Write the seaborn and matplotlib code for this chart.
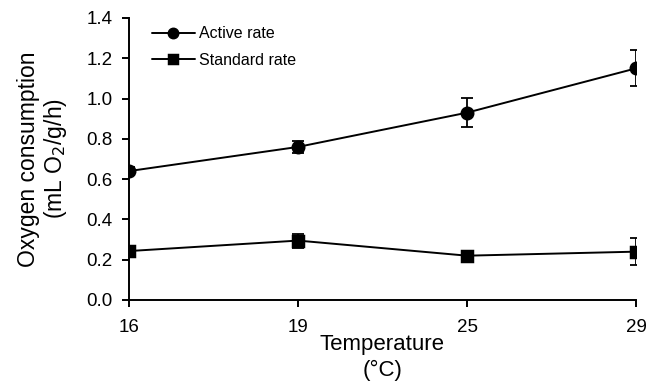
import matplotlib
matplotlib.use("Agg")
import matplotlib.pyplot as plt
import seaborn as sns
import pandas as pd
import numpy as np

temps = ["16", "19", "25", "29"]
active_rate = [0.64, 0.76, 0.93, 1.15]
active_err = [0.02, 0.03, 0.073, 0.09]
standard_rate = [0.243, 0.295, 0.22, 0.24]
standard_err = [0.02, 0.035, 0.015, 0.066]
series_names = ["Active rate", "Standard rate"]
yticks = [0.0, 0.2, 0.4, 0.6, 0.8, 1.0, 1.2, 1.4]

sns.set_theme(style="ticks")
plt.rcParams["font.family"] = ["Liberation Sans", "DejaVu Sans"]
plt.rcParams["text.color"] = "black"
plt.rcParams["axes.labelcolor"] = "black"

df = pd.DataFrame({
    "Temperature": temps * 2,
    "value": active_rate + standard_rate,
    "err": active_err + standard_err,
    "series": [series_names[0]] * 4 + [series_names[1]] * 4,
})

fig = plt.figure(figsize=(6.58, 3.85), dpi=100)
ax = fig.add_axes([129 / 658, 1 - 300 / 385, (636 - 129) / 658, 282 / 385])

sns.pointplot(data=df, x="Temperature", y="value", hue="series", order=temps,
              hue_order=series_names, markers=["o", "s"], linestyles=["-", "-"],
              palette=["black", "black"], errorbar=None, ax=ax,
              markersize=9, linewidth=1.4)

for name, vals, errs in [(series_names[0], active_rate, active_err),
                         (series_names[1], standard_rate, standard_err)]:
    ax.errorbar(np.arange(len(temps)), vals, yerr=errs, fmt="none",
                ecolor="black", elinewidth=1.3, capsize=4, capthick=1.3, zorder=1)

ax.set_xlim(0, 3)
ax.set_ylim(0, 1.4)
ax.set_yticks(yticks)
ax.set_yticklabels([f"{v:.1f}" for v in yticks])
sns.despine(ax=ax)
for s in ["left", "bottom"]:
    ax.spines[s].set_linewidth(1.4)
    ax.spines[s].set_color("black")
ax.tick_params(axis="both", direction="out", length=5, width=1.4, color="black",
               labelcolor="black")
for lab in ax.get_xticklabels() + ax.get_yticklabels():
    lab.set_fontsize(13.5)
ax.tick_params(axis="x", pad=9)
ax.tick_params(axis="y", pad=7)

ax.set_xlabel("Temperature\n(°C)", fontsize=16, labelpad=-2, linespacing=1.3)
ax.set_ylabel("Oxygen consumption\n(mL O$_2$/g/h)", fontsize=16.5, labelpad=12,
              linespacing=1.1)

leg = ax.legend(loc="upper left", bbox_to_anchor=(0.045, 0.97), frameon=False,
                fontsize=11.5, handlelength=2.7, handletextpad=0.25, labelspacing=0.7,
                borderpad=0, borderaxespad=0)
for h in leg.legend_handles:
    h.set_markersize(7.5)

fig.savefig("out.png", dpi=100)
